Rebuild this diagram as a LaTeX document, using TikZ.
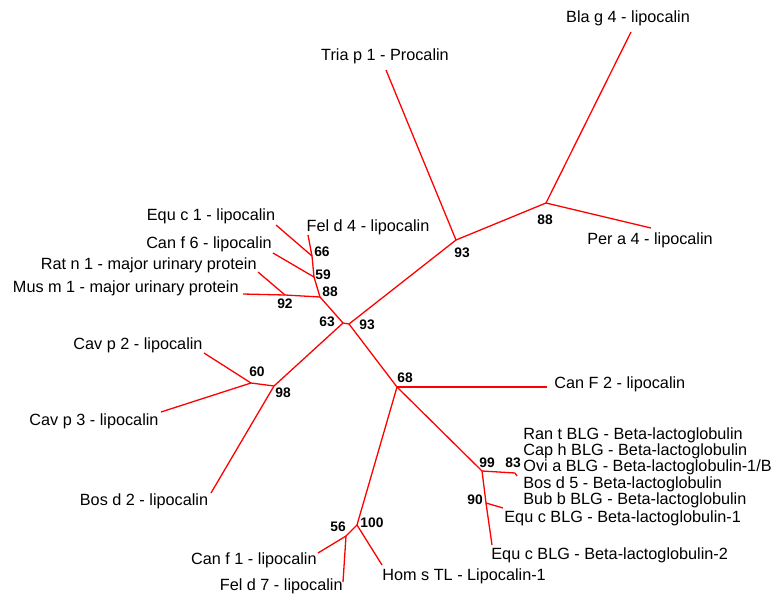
\documentclass[tikz,border=0pt]{standalone}
\usepackage{fontspec}
\setmainfont{Liberation Sans}
\usetikzlibrary{matrix}

\begin{document}
\begin{tikzpicture}[x=0.5pt, y=-0.5pt,
    branch/.style={red, line width=0.65pt},
    taxon/.style={font=\fontsize{8.12}{9.7}\selectfont, inner sep=0pt},
    support/.style={font=\fontsize{6.9}{8}\selectfont\bfseries, inner sep=0pt}
]
    \useasboundingbox (0,0) rectangle (777,600);

    % inner nodes of the tree
    \coordinate (node 63) at (343,323);
    \coordinate (node 93c) at (349,324);
    \coordinate (node 93t) at (456,240);
    \coordinate (node 88t) at (546,203);
    \coordinate (node 88l) at (320,297);
    \coordinate (node 92) at (285,295);
    \coordinate (node 59) at (314,277);
    \coordinate (node 66) at (312,256);
    \coordinate (node 98) at (274,386);
    \coordinate (node 60) at (251,383);
    \coordinate (node 68) at (397,387);
    \coordinate (node 99) at (482,471);
    \coordinate (node 83) at (515,473);
    \coordinate (node 90) at (486,503);
    \coordinate (node 100) at (357,525);
    \coordinate (node 56) at (346,536);

    % tips
    \coordinate (tria) at (386,70);
    \coordinate (blag) at (631,32);
    \coordinate (pera) at (651,228);
    \coordinate (mus) at (243,294);
    \coordinate (rat) at (258,272);
    \coordinate (canf6) at (273,253);
    \coordinate (equc1) at (276,225);
    \coordinate (feld4) at (308,235);
    \coordinate (cavp2) at (204,353);
    \coordinate (cavp3) at (161,412);
    \coordinate (bosd2) at (211,493);
    \coordinate (canF2) at (547,387);
    \coordinate (blg) at (517,476);
    \coordinate (equblg1) at (503,508);
    \coordinate (equblg2) at (492,545);
    \coordinate (canf1) at (318,553);
    \coordinate (feld7) at (343,582);
    \coordinate (homs) at (382,565);

    % branches
    \foreach \a/\b in {node 63/node 93c,node 93c/node 93t,node 93t/tria,
        node 93t/node 88t,node 88t/blag,node 88t/pera,
        node 63/node 88l,node 88l/node 92,node 92/mus,node 92/rat,
        node 88l/node 59,node 59/canf6,node 59/node 66,node 66/equc1,node 66/feld4,
        node 63/node 98,node 98/node 60,node 60/cavp2,node 60/cavp3,node 98/bosd2,
        node 93c/node 68,node 68/canF2,node 68/node 99,node 99/node 83,node 83/blg,
        node 99/node 90,node 90/equblg1,node 90/equblg2,
        node 68/node 100,node 100/node 56,node 56/canf1,node 56/feld7,node 100/homs}{
        \draw[branch] (\a) -- (\b);
    }

    % bootstrap values
    \node[support] (b93t) at (462,253) {93};
    \node[support] (b88t) at (545,220) {88};
    \node[support] (b66) at (322,252) {66};
    \node[support] (b59) at (323,275) {59};
    \node[support] (b88l) at (330,292) {88};
    \node[support] (b92) at (285,304) {92};
    \node[support] (b63) at (327,322) {63};
    \node[support] (b93c) at (367,325) {93};
    \node[support] (b60) at (257,372) {60};
    \node[support] (b98) at (283,393) {98};
    \node[support] (b68) at (405,378) {68};
    \node[support] (b99) at (487,463) {99};
    \node[support] (b83) at (513,463) {83};
    \node[support] (b90) at (475,500) {90};
    \node[support] (b56) at (338,527) {56};
    \node[support] (b100) at (372,523) {100};

    % taxa
    \node[taxon] (label blag) at (628,18) {Bla g 4 - lipocalin};
    \node[taxon] (label tria) at (385,56) {Tria p 1 - Procalin};
    \node[taxon] (label pera) at (650,240) {Per a 4 - lipocalin};
    \node[taxon] (label feld4) at (368,227) {Fel d 4 - lipocalin};
    \node[taxon] (label equc1) at (211,216) {Equ c 1 - lipocalin};
    \node[taxon] (label canf6) at (209,244) {Can f 6 - lipocalin};
    \node[taxon, anchor=east] (label rat) at (257,265) {Rat n 1 - major urinary protein};
    \node[taxon, anchor=east] (label mus) at (239,288) {Mus m 1 - major urinary protein};
    \node[taxon] (label cavp2) at (138,345) {Cav p 2 - lipocalin};
    \node[taxon] (label cavp3) at (94,421) {Cav p 3 - lipocalin};
    \node[taxon] (label bosd2) at (144,501) {Bos d 2 - lipocalin};
    \node[taxon, anchor=west] (label canF2) at (554,384) {Can F 2 - lipocalin};

    \matrix (blg labels) [matrix of nodes, anchor=north west, inner sep=0pt,
        nodes={taxon, anchor=west, text height=6pt, text depth=2.1pt},
        row sep=0pt
    ] at (523,427) {
        Ran t BLG - Beta-lactoglobulin \\
        Cap h BLG - Beta-lactoglobulin \\
        Ovi a BLG - Beta-lactoglobulin-1/B \\
        Bos d 5 - Beta-lactoglobulin \\
        Bub b BLG - Beta-lactoglobulin \\
    };

    \node[taxon, anchor=west] (label equblg1) at (504,518) {Equ c BLG - Beta-lactoglobulin-1};
    \node[taxon, anchor=west] (label equblg2) at (491,555) {Equ c BLG - Beta-lactoglobulin-2};
    \node[taxon, anchor=east] (label canf1) at (317,560) {Can f 1 - lipocalin};
    \node[taxon, anchor=east] (label feld7) at (343,586) {Fel d 7 - lipocalin};
    \node[taxon, anchor=west] (label homs) at (382,576) {Hom s TL - Lipocalin-1};
\end{tikzpicture}
\end{document}
